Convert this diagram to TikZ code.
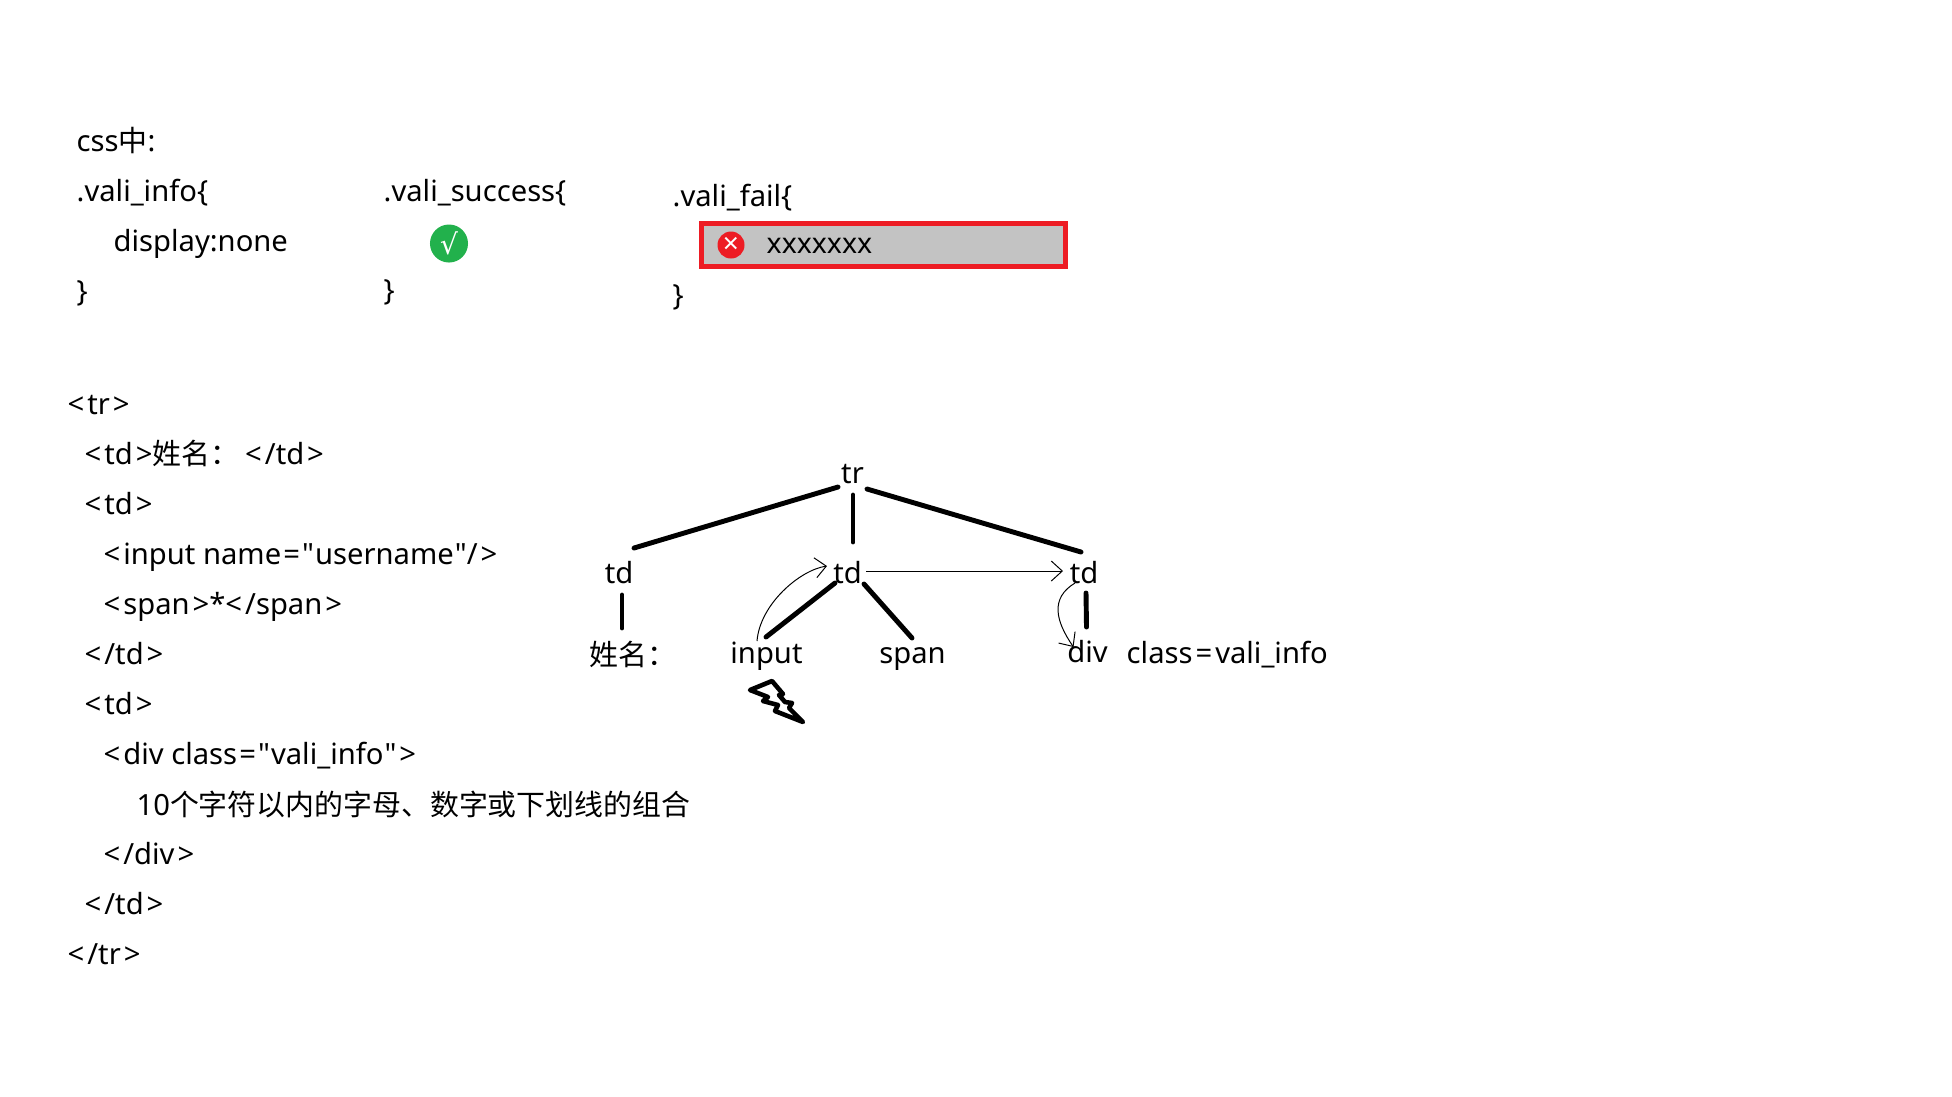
\documentclass[tikz,border=0pt]{standalone}
\usepackage{fontspec}
\setmainfont[Ligatures=TeXOff]{Noto Sans}
\newfontfamily\cjk[Scale=0.99]{Noto Sans CJK SC}
\newfontfamily\sym{DejaVu Sans}
\usetikzlibrary{arrows.meta}
\definecolor{failred}{RGB}{237,28,36}
\definecolor{okgreen}{RGB}{34,177,76}
\definecolor{boxgray}{RGB}{195,195,195}
\newcommand{\ob}{<\kern.85pt}
\newcommand{\cb}{\kern.85pt>}
\newcommand{\eqq}{\kern.6pt=\kern.6pt"\kern.3pt}
\newcommand{\qq}{\kern.3pt"}
\tikzset{
	txt/.style={anchor=base west, inner sep=0pt, font=\fontsize{8.3pt}{10pt}\selectfont},
	lbl/.style={inner sep=2pt, font=\fontsize{8.3pt}{10pt}\selectfont},
	branch/.style={line width=1.4pt, line cap=round},
	hand/.style={line width=0.28pt, -{Straight Barb[length=1.1mm,width=2mm]}}
}
\begin{document}
\begin{tikzpicture}[x=0.01cm, y=-0.01cm]
	\useasboundingbox (0,0) rectangle (1952,1096);

	% css part
	\node[txt] (css) at (76,151) {css{\cjk 中}:};
	\node[txt] (infoa) at (76,201) {.vali\_info\{};
	\node[txt] (infob) at (113,251) {display:none};
	\node[txt] (infoc) at (76,301) {\}};
	\node[txt] (succa) at (383,201) {.vali\_success\{};
	\node[txt] (succb) at (383,300) {\}};
	\node[txt] (faila) at (672,206) {.vali\_fail\{};
	\node[txt] (failc) at (672,305) {\}};

	\node[circle, fill=okgreen, text=white, inner sep=0pt, minimum size=0.38cm, font=\sym\fontsize{8pt}{10pt}\selectfont] (ok) at (449,243.5) {√};
	\node[draw=failred, fill=boxgray, line width=1.4pt, minimum width=3.64cm, minimum height=0.43cm, inner sep=0pt] (failbox) at (883.5,245) {};
	\node[circle, fill=failred, text=white, inner sep=0pt, minimum size=0.27cm, font=\fontsize{8pt}{10pt}\bfseries\selectfont] (bad) at (731,245) {×};
	\node[txt, font=\fontsize{8.1pt}{10pt}\selectfont] (failtxt) at (766,253) {xxxxxxx};

	% html part
	\node[txt] (l1) at (67,414.5) {\ob tr\cb};
	\node[txt] (l2) at (84,464.5) {\ob td\cb{\cjk 姓名：}\kern1.7pt\ob/td\cb};
	\node[txt] (l3) at (84,514.5) {\ob td\cb};
	\node[txt] (l4) at (103,564.5) {\ob input name\eqq username\qq/\cb};
	\node[txt] (l5) at (103,614.5) {\ob span\cb*\ob/span\cb};
	\node[txt] (l6) at (84,664.5) {\ob/td\cb};
	\node[txt] (l7) at (84,714.5) {\ob td\cb};
	\node[txt] (l8) at (103,764.5) {\ob div class\eqq vali\_info\qq\cb};
	\node[txt] (l9) at (136,815) {10{\cjk 个字符以内的字母、数字或下划线的组合}};
	\node[txt] (l10) at (103,864.5) {\ob/div\cb};
	\node[txt] (l11) at (84,914.5) {\ob/td\cb};
	\node[txt] (l12) at (67,964.5) {\ob/tr\cb};

	% tree
	\node[lbl] (tr) at (852.5,474) {tr};
	\node[lbl] (tda) at (619,573) {td};
	\node[lbl] (tdb) at (847.5,573) {td};
	\node[lbl] (tdc) at (1084,573) {td};
	\node[lbl] (name) at (633,654) {\cjk 姓名：};
	\node[lbl] (input) at (766.5,656) {input};
	\node[lbl] (span) at (912.5,659) {span};
	\node[lbl] (div) at (1087.5,652) {div};
	\node[txt] (cls) at (1126,663) {class\kern.85pt=\kern.85pt vali\_info};

	\draw[branch] ([shift={(-14.5,13)}]tr.center) -- ([shift={(15,-25)}]tda.center);
	\draw[branch] ([shift={(0.5,21)}]tr.center) -- ([shift={(5.5,-31)}]tdb.center);
	\draw[branch] ([shift={(14.5,15)}]tr.center) -- ([shift={(-3,-21)}]tdc.center);
	\draw[branch] ([shift={(3,22)}]tda.center) -- ([shift={(-11,-26)}]name.center);
	\draw[branch] ([shift={(-12.5,10)}]tdb.center) -- ([shift={(-0.5,-19)}]input.center);
	\draw[branch] ([shift={(16.5,11)}]tdb.center) -- ([shift={(-0.5,-21)}]span.center);
	\draw[branch] ([shift={(2,20)}]tdc.center) -- ([shift={(-1,-25)}]div.center);

	\draw[hand] ([shift={(-9.5,-15)}]input.center) .. controls +(3,-37) and +(-27,4) .. ([shift={(-20.5,-7)}]tdb.center);
	\draw[hand] ([shift={(18.5,-2)}]tdb.center) -- ([shift={(-21,-2)}]tdc.center);
	\draw[hand] ([shift={(-9,10)}]tdc.center) .. controls +(-25,15) and +(-18,-26) .. ([shift={(-14,-5)}]div.center);

	% bolt
	\draw[line width=1.3pt, line join=round] (750,690) -- (772,681) -- (783,694) -- (779,695) -- (785,702) -- (792,703) -- (789,708) -- (803,722) -- (775,711) -- (778,705) -- (763,701) -- (768,697) -- cycle;
\end{tikzpicture}
\end{document}
